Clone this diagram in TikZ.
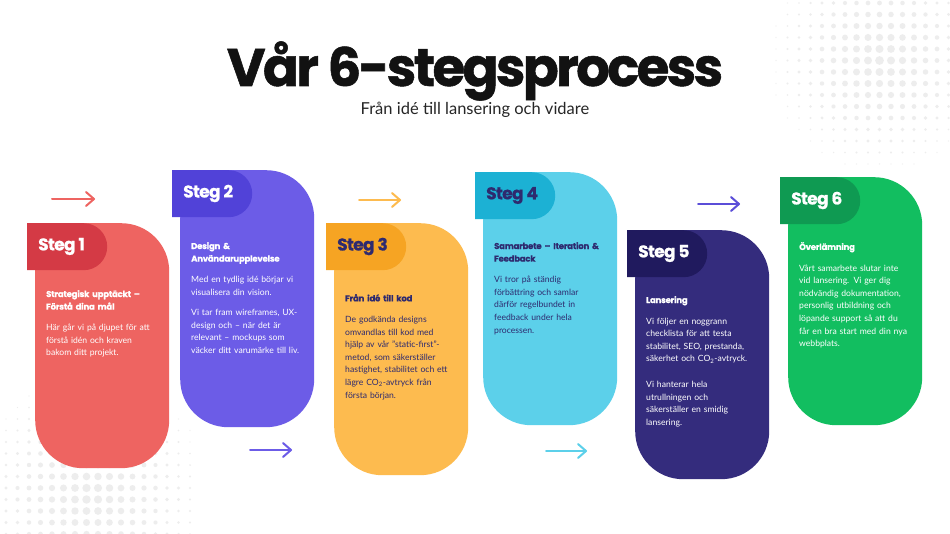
\documentclass[tikz,border=0pt]{standalone}
\usepackage{fontspec}
\setmainfont{Lato}
\newfontfamily\pop{Poppins}
\newfontfamily\poptitle{Poppins}[LetterSpace=-5,FakeBold=1]
\newfontfamily\poptight{Poppins}[LetterSpace=-2.5,FakeBold=0.5]
\newfontfamily\poplabel{Poppins}[LetterSpace=-4,FakeBold=0.8]
\usetikzlibrary{shapes.misc,arrows.meta}
\definecolor{c1}{HTML}{EE6461}
\definecolor{t1}{HTML}{D43A45}
\definecolor{c2}{HTML}{6C5CE7}
\definecolor{t2}{HTML}{5142D8}
\definecolor{c3}{HTML}{FDBB4F}
\definecolor{t3}{HTML}{F6A423}
\definecolor{c4}{HTML}{5CD0EA}
\definecolor{t4}{HTML}{1CB1D4}
\definecolor{c5}{HTML}{342C7D}
\definecolor{t5}{HTML}{201A5E}
\definecolor{c6}{HTML}{12BE60}
\definecolor{t6}{HTML}{0F9A52}
\definecolor{navy}{HTML}{2E2A6F}
\definecolor{arr5}{HTML}{5B4ED8}
\definecolor{dotc}{HTML}{EDEDED}
\newcommand\cardhead{\poptight\bfseries\fontsize{8.5}{12.6}\selectfont}
\newcommand\stepcard[9]{%
  \node[cardbox, fill=#5, minimum height=#4pt, anchor=north west] (card#1) at (#2+8,#3) {};
  \node[tabbox, fill=#6, anchor=north west] (tab#1) at (#2,#3) {};
  \node[steglabel, text=#7, anchor=west] (lab#1) at (#2+11,#3+23.5) {Steg #1};
  \node[cardtext, text=#7, anchor=north west] (txt#1) at (#2+19,#8) {#9};
}
\begin{document}
\begin{tikzpicture}[x=1pt,y=-1pt,
  cardbox/.style={rectangle, rounded corners=48pt, minimum width=134pt, inner sep=0pt, draw=none},
  tabbox/.style={rounded rectangle, rounded rectangle west arc=none, minimum width=80pt, minimum height=47pt, inner sep=0pt, draw=none},
  steglabel/.style={font=\poplabel\bfseries\fontsize{17}{17}\selectfont, inner sep=0pt},
  cardtext/.style={font=\fontsize{8.6}{12.6}\selectfont, text width=134pt, align=left, inner sep=0pt},
  arr/.style={line width=2pt, line cap=round, -{Straight Barb[round,length=8pt,width=14pt]}}]
\useasboundingbox[fill=white] (0,0) rectangle (950,534);
% halftone dots
\foreach \i in {0,...,16}{
  \foreach \j in {0,...,12}{
    \pgfmathsetmacro\px{6+11.5*\i}
    \pgfmathsetmacro\py{396+11.5*\j}
    \pgfmathsetmacro\dr{4.4*(1-veclen(\px-90,\py-495)/135)}
    \ifdim\dr pt>0.5pt \fill[dotc] (\px,\py) circle[radius=\dr]; \fi
  }
}
\foreach \i in {0,...,16}{
  \foreach \j in {0,...,15}{
    \pgfmathsetmacro\px{776+11.5*\i}
    \pgfmathsetmacro\py{3+11.5*\j}
    \pgfmathsetmacro\dr{4.4*(1-veclen(\px-880,\py-60)/125)}
    \ifdim\dr pt>0.5pt \fill[dotc] (\px,\py) circle[radius=\dr]; \fi
  }
}
% title
\node[font=\poptitle\bfseries\fontsize{53}{53}\selectfont, text=black!93, anchor=base, inner sep=0pt] (title) at (475,86) {Vår 6-stegsprocess};
\node[font=\fontsize{16.5}{16.5}\selectfont, text=black!85, anchor=base, inner sep=0pt] (sub) at (475,115) {Från idé till lansering och vidare};
% cards
\stepcard{1}{27}{223}{245}{c1}{t1}{white}{290}{{\cardhead Strategisk upptäckt –\\Förstå dina mål}\\[8.5pt]Här går vi på djupet för att\\förstå idén och kraven\\bakom ditt projekt.}
\stepcard{2}{172}{170}{257}{c2}{t2}{white}{242}{{\cardhead Design \&\\Användarupplevelse}\\[8.5pt]Med en tydlig idé börjar vi\\visualisera din vision.\\[7.5pt]Vi tar fram wireframes, UX-\\design och – när det är\\relevant – mockups som\\väcker ditt varumärke till liv.}
\stepcard{3}{326}{223}{252}{c3}{t3}{navy}{294}{{\cardhead Från idé till kod}\\[8.5pt]De godkända designs\\omvandlas till kod med\\hjälp av vår ”static-first”-\\metod, som säkerställer\\hastighet, stabilitet och ett\\lägre CO\textsubscript{2}-avtryck från\\första början.}
\stepcard{4}{475}{172}{253}{c4}{t4}{navy}{242}{{\cardhead Samarbete – Iteration \&\\Feedback}\\[8.5pt]Vi tror på ständig\\förbättring och samlar\\därför regelbundet in\\feedback under hela\\processen.}
\stepcard{5}{627}{230}{249}{c5}{t5}{white}{296}{{\cardhead Lansering}\\[8.5pt]Vi följer en noggrann\\checklista för att testa\\stabilitet, SEO, prestanda,\\säkerhet och CO\textsubscript{2}-avtryck.\\[13pt]Vi hanterar hela\\utrullningen och\\säkerställer en smidig\\lansering.}
\stepcard{6}{780}{177}{248}{c6}{t6}{white}{242}{{\cardhead Överlämning}\\[8.5pt]Vårt samarbete slutar inte\\vid lansering. Vi ger dig\\nödvändig dokumentation,\\personlig utbildning och\\löpande support så att du\\får en bra start med din nya\\webbplats.}
% arrows
\coordinate (a1s) at (52,199); \coordinate (a1e) at (95,199);
\coordinate (a2s) at (250,450); \coordinate (a2e) at (292,450);
\coordinate (a3s) at (359,200); \coordinate (a3e) at (401,200);
\coordinate (a4s) at (546,451); \coordinate (a4e) at (587,451);
\coordinate (a5s) at (698,204); \coordinate (a5e) at (740,204);
\draw[arr, draw=c1] (a1s) -- (a1e);
\draw[arr, draw=c2] (a2s) -- (a2e);
\draw[arr, draw=c3] (a3s) -- (a3e);
\draw[arr, draw=c4] (a4s) -- (a4e);
\draw[arr, draw=arr5] (a5s) -- (a5e);
\end{tikzpicture}
\end{document}
